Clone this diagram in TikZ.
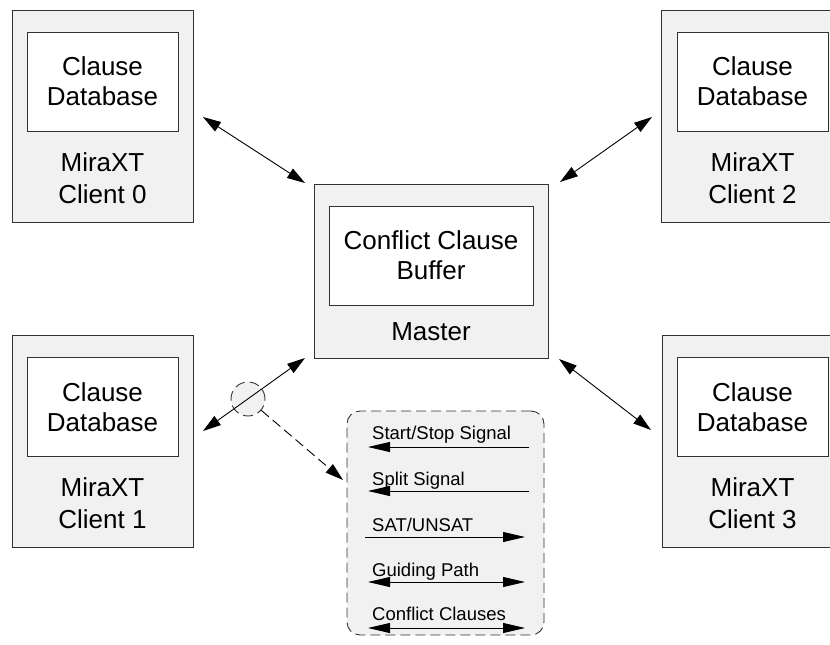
\documentclass[tikz,border=0pt]{standalone}
\usepackage{fontspec}
\setmainfont{Liberation Sans}
\usetikzlibrary{arrows.meta}
\definecolor{boxgray}{RGB}{241,241,241}
\definecolor{linec}{RGB}{50,50,50}
\tikzset{legtip/.tip={Triangle[length=22pt,width=10pt]},
  bigtip/.tip={Triangle[length=18pt,width=11pt]}}
\begin{document}
\begin{tikzpicture}[x=1pt,y=-1pt,
  outerbox/.style={draw=linec, fill=boxgray, line width=1pt, inner sep=0pt,
    minimum width=181pt, minimum height=212pt},
  masterbox/.style={draw=linec, fill=boxgray, line width=1pt, inner sep=0pt,
    minimum width=234pt, minimum height=174pt},
  innerbox/.style={draw=linec, fill=white, line width=1pt, inner sep=0pt,
    minimum width=151pt, minimum height=99pt, align=center,
    font=\fontsize{26}{30}\selectfont},
  minnerbox/.style={innerbox, minimum width=204pt},
  lbl/.style={align=center, inner sep=0pt, font=\fontsize{26}{32}\selectfont},
  link/.style={draw=black, line width=0.9pt, bigtip-bigtip},
  legtxt/.style={anchor=base west, inner sep=0pt, font=\fontsize{18.5}{22}\selectfont},
  legline/.style={draw=black, line width=0.9pt},
  dashy/.style={dash pattern=on 10pt off 5pt}
]
\useasboundingbox (0,0) rectangle (830,645);

% Client 0
\node[outerbox] (c0) at (102.5,116) {};
\node[innerbox] (db0) at (102.5,81.5) {Clause\\Database};
\node[lbl] (l0) at (102.5,178) {MiraXT\\Client 0};

% Client 1
\node[outerbox] (c1) at (102.5,441) {};
\node[innerbox] (db1) at (102.5,407) {Clause\\Database};
\node[lbl] (l1) at (102.5,503) {MiraXT\\Client 1};

% Client 2
\node[outerbox] (c2) at (751.5,116) {};
\node[innerbox] (db2) at (752.5,81.5) {Clause\\Database};
\node[lbl] (l2) at (752.5,178) {MiraXT\\Client 2};

% Client 3
\node[outerbox] (c3) at (752.5,441) {};
\node[innerbox] (db3) at (752.5,407) {Clause\\Database};
\node[lbl] (l3) at (752.5,503) {MiraXT\\Client 3};

% Master
\node[masterbox] (m) at (431,271) {};
\node[minnerbox] (buf) at (431,255.5) {Conflict Clause\\Buffer};
\node[lbl] (ml) at (431,332) {Master};

% arrow end points
\coordinate (a0c) at (203,117);
\coordinate (a0m) at (305,183);
\coordinate (a2m) at (560,182);
\coordinate (a2c) at (652,117);
\coordinate (a1m) at (305,358);
\coordinate (a1c) at (203,431);
\coordinate (a3m) at (559,359);
\coordinate (a3c) at (651,430);

% magnifier circle
\node[circle, draw=linec, fill=boxgray, line width=0.9pt, dashy, minimum size=34pt, inner sep=0pt] (circ) at (248,399) {};

\draw[link] (a0c) -- (a0m);
\draw[link] (a2m) -- (a2c);
\draw[link] (a1m) -- (a1c);
\draw[link] (a3m) -- (a3c);

% legend box
\node[draw=linec, fill=boxgray, line width=0.9pt, dashy, rounded corners=13pt,
  minimum width=197pt, minimum height=224pt, inner sep=0pt] (leg) at (445.5,523) {};
\coordinate (legin) at (343,480);
\draw[line width=0.9pt, dashy, -bigtip] (circ) -- (legin);

% legend entries
\node[legtxt] (t1) at (372,439) {Start/Stop Signal};
\draw[legline, -legtip] (529,447) -- (368,447);
\node[legtxt] (t2) at (372,485) {Split Signal};
\draw[legline, -legtip] (529,491) -- (368,491);
\node[legtxt] (t3) at (372,531) {SAT/UNSAT};
\draw[legline, -legtip] (365,537) -- (525,537);
\node[legtxt] (t4) at (372,576) {Guiding Path};
\draw[legline, legtip-legtip] (368,582) -- (525,582);
\node[legtxt] (t5) at (372,620) {Conflict Clauses};
\draw[legline, legtip-legtip] (368,628) -- (525,628);
\end{tikzpicture}
\end{document}
